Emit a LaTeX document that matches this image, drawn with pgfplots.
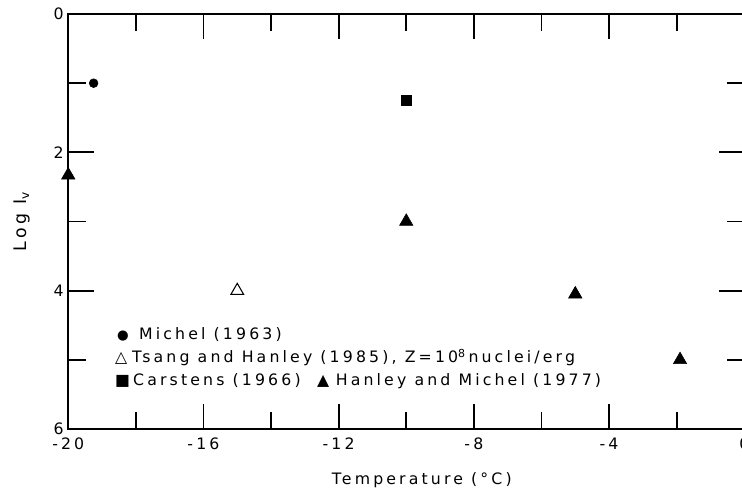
\documentclass[border=0pt]{standalone}
\usepackage{fontspec}
\setmainfont{DejaVu Sans}[LetterSpace=20]
\newfontfamily\sym{DejaVu Sans}
\usepackage{pgfplots}
\pgfplotsset{compat=1.18}

\begin{document}
\begin{tikzpicture}
\begin{axis}[
  scale only axis,
  width=507pt, height=311.25pt,
  xmin=-20, xmax=0, ymin=0, ymax=6,
  y dir=reverse,
  xtick={-20,-16,...,0}, minor xtick={-18,-14,...,-2},
  ytick={0,2,4,6}, minor ytick={1,3,5},
  major tick length=19pt, minor tick length=13pt,
  axis line style={line width=1.5pt},
  every tick/.style={line width=1.4pt, black},
  tick label style={font=\fontsize{11.8}{13}\selectfont},
  xticklabel style={yshift=-3pt},
  /pgf/number format/assume math mode=true,
  xlabel={Temperature (\textdegree C)},
  ylabel={Log I\textsubscript{v}},
  label style={font=\fontsize{11.8}{13}\selectfont},
  xlabel style={at={(axis description cs:0.523,0)}, anchor=center, yshift=-38pt},
  ylabel style={at={(axis description cs:-0.068,0.5)}, anchor=center,
                font=\fontsize{13}{14}\selectfont},
  clip=false,
]
% Michel (1963)
\addplot[only marks, mark=*, mark size=3.3pt] coordinates {(-19.25,1.0)};
% Tsang and Hanley (1985)
\addplot[only marks, mark=triangle, mark size=5.5pt, mark options={line width=0.8pt}] coordinates {(-15,4.0)};
% Carstens (1966)
\addplot[only marks, mark=square*, mark size=3.8pt] coordinates {(-10,1.25)};
% Hanley and Michel (1977)
\addplot[only marks, mark=triangle*, mark size=5.8pt] coordinates {
  (-20,2.33) (-10,3.0) (-5,4.05) (-1.9,5.0)
};
% legend (baseline of the last line)
\node[anchor=base west, inner sep=0pt, align=left,
      font=\fontsize{11.8}{17.25}\selectfont]
  at (axis cs:-18.62,5.376) {%
  \makebox[18pt][l]{\hspace{1.5pt}{\sym\fontsize{10}{10}\selectfont ●}}Michel (1963)\\
  \makebox[12.75pt][l]{{\sym △}}Tsang and Hanley (1985), Z=10\textsuperscript{8}\,nuclei/erg\\
  \makebox[13.5pt][l]{{\sym ■}}\makebox[138pt][l]{Carstens (1966)}\makebox[14pt][l]{{\sym ▲}}Hanley and Michel (1977)};
\end{axis}
\pgfresetboundingbox
\useasboundingbox (-51.2pt,-45.75pt) rectangle (505.3pt,321.75pt);
\end{tikzpicture}
\end{document}
